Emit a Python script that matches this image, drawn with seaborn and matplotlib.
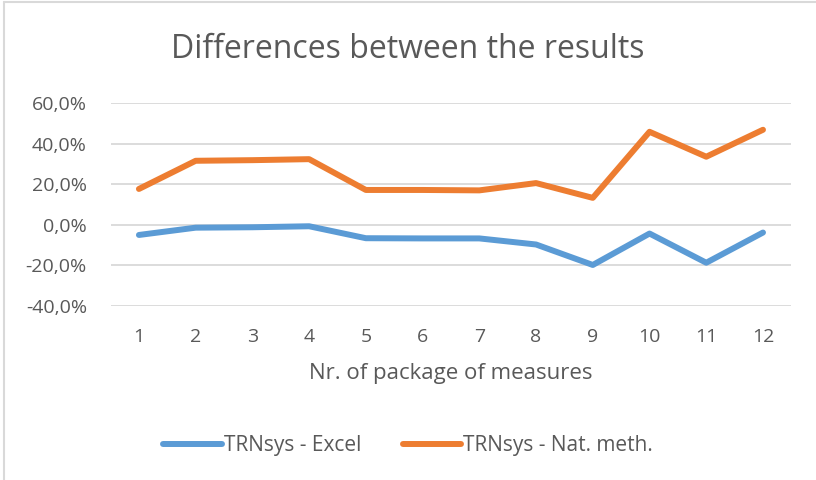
import matplotlib
matplotlib.use("Agg")
import matplotlib.pyplot as plt
import seaborn as sns
import pandas as pd
from matplotlib.lines import Line2D

packages = [1, 2, 3, 4, 5, 6, 7, 8, 9, 10, 11, 12]
excel = [-5.1, -1.5, -1.3, -0.8, -6.7, -6.8, -6.8, -9.8, -19.9, -4.4, -18.8, -3.9]
natmeth = [17.6, 31.5, 31.8, 32.3, 17.1, 17.1, 16.9, 20.5, 13.2, 45.8, 33.5, 46.8]
series_names = ["TRNsys - Excel", "TRNsys - Nat. meth."]
colors = ["#5B9BD5", "#ED7D31"]
yticks = [-40, -20, 0, 20, 40, 60]
ytick_labels = ["-40,0%", "-20,0%", "0,0%", "20,0%", "40,0%", "60,0%"]

df = pd.DataFrame({
    "pkg": packages * 2,
    "val": excel + natmeth,
    "series": [series_names[0]] * len(packages) + [series_names[1]] * len(packages),
})

sns.set_theme(style="white")
plt.rcParams["font.family"] = ["Open Sans", "DejaVu Sans"]
txt = "#595959"

fig = plt.figure(figsize=(8.16, 4.8), dpi=100)
ax = fig.add_axes([0.1355, 0.3631, 0.8343, 0.4223])

sns.lineplot(data=df, x="pkg", y="val", hue="series", palette=colors,
             linewidth=4.3, ax=ax, legend=False, solid_capstyle="round")

ax.set_xlim(0.5, 12.5)
ax.set_ylim(-40, 60)
ax.set_yticks(yticks)
ax.set_yticklabels(ytick_labels)
ax.set_xticks(packages)
ax.set_xticklabels([str(p) for p in packages])
ax.grid(axis="y", color="#D9D9D9", linewidth=1.3)
ax.set_axisbelow(True)
for s in ax.spines.values():
    s.set_visible(False)
ax.tick_params(axis="both", length=0, labelsize=14, colors=txt)
ax.tick_params(axis="x", pad=16)
ax.tick_params(axis="y", pad=17)
ax.set_xlabel("Nr. of package of measures", fontsize=16, color=txt, labelpad=12)
ax.set_ylabel("")

fig.text(0.5, 1 - 50 / 480, "Differences between the results", ha="center", va="center",
         fontsize=23, color=txt)

handles = [Line2D([0], [0], color=c, lw=4.3, solid_capstyle="round") for c in colors]
fig.legend(handles, series_names, loc="center", bbox_to_anchor=(0.5, 1 - 446 / 480),
           ncol=2, frameon=False, fontsize=15, labelcolor=txt, handlelength=2.8,
           handletextpad=0.1, columnspacing=2.0)

# chart border (left and top)
fig.add_artist(Line2D([3.5 / 816, 3.5 / 816], [0, 1 - 2 / 480], color="#D9D9D9", lw=1.5,
                      transform=fig.transFigure))
fig.add_artist(Line2D([3.5 / 816, 1], [1 - 2 / 480, 1 - 2 / 480], color="#D9D9D9", lw=1.5,
                      transform=fig.transFigure))

fig.savefig("out.png", dpi=100)
